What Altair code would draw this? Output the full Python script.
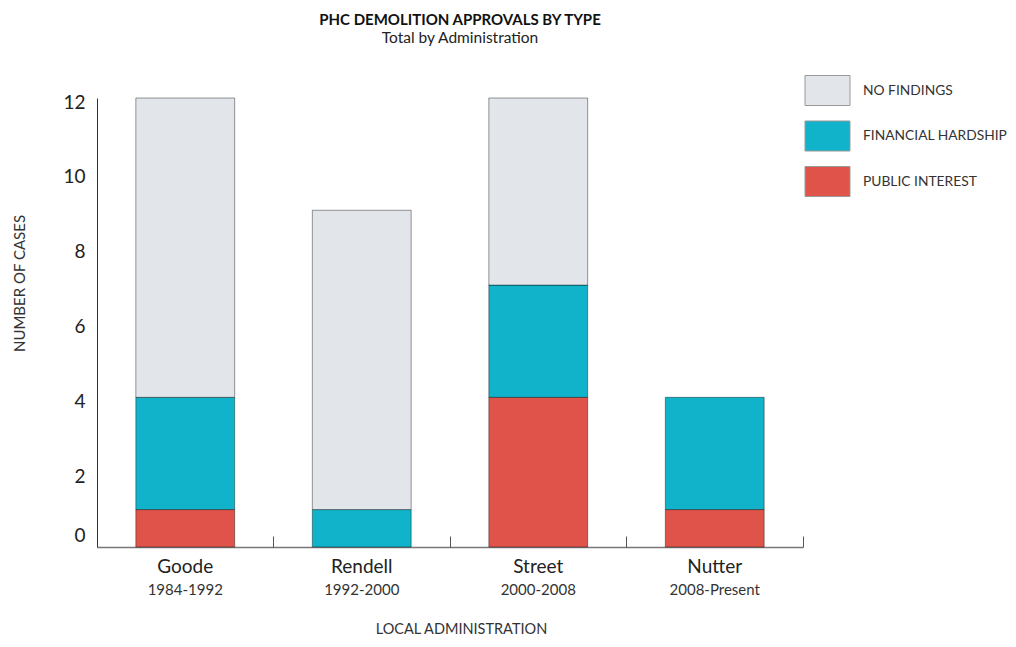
import altair as alt
import pandas as pd

ADMINS = ["Goode", "Rendell", "Street", "Nutter"]
TERMS = ["1984-1992", "1992-2000", "2000-2008", "2008-Present"]
TYPES = ["NO FINDINGS", "FINANCIAL HARDSHIP", "PUBLIC INTEREST"]
COLORS = ["#e2e5ea", "#10b3c9", "#e0534a"]
PUBLIC_INTEREST = [1, 0, 4, 1]
FINANCIAL_HARDSHIP = [3, 1, 3, 3]
NO_FINDINGS = [8, 8, 5, 0]
Y_TICKS = [0, 2, 4, 6, 8, 10, 12]

rows = []
for i, a in enumerate(ADMINS):
    for order, (t, vals) in enumerate([("PUBLIC INTEREST", PUBLIC_INTEREST),
                                       ("FINANCIAL HARDSHIP", FINANCIAL_HARDSHIP),
                                       ("NO FINDINGS", NO_FINDINGS)]):
        if vals[i] > 0:
            rows.append({"admin": a, "type": t, "cases": vals[i], "stack": order})
df = pd.DataFrame(rows)
admin_df = pd.DataFrame({"admin": ADMINS, "term": TERMS})

FONT = "Lato"
W, H = 706, 449

term_expr = " : ".join(f"datum.value === '{a}' ? '{t}'" for a, t in zip(ADMINS, TERMS)) + " : ''"
x_scale = alt.Scale(paddingInner=0.44, paddingOuter=0.22)

bars = alt.Chart(df).mark_bar(stroke="black", strokeOpacity=0.4, strokeWidth=1).encode(
    x=alt.X("admin:N", sort=ADMINS, scale=x_scale,
            axis=alt.Axis(orient="bottom", title=None, labelAngle=0, labelFontSize=19,
                          labelColor="#222", labelPadding=10, ticks=False, tickSize=0,
                          domainColor="#777", domainWidth=1.5, labelFont=FONT, grid=False)),
    y=alt.Y("cases:Q", stack="zero", scale=alt.Scale(domain=[0, 12], nice=False),
            axis=alt.Axis(values=Y_TICKS, ticks=False, grid=False, domainColor="#333",
                          domainWidth=1, labelFontSize=19, labelFont=FONT, labelColor="#222",
                          labelPadding=12,
                          labelOffset={"condition": {"test": "datum.value === 0", "value": -12}, "value": 4},
                          title="NUMBER OF CASES", titleFont=FONT, titleFontSize=15,
                          titleFontWeight="normal", titleColor="#333", titleX=-78, titleY=185,
                          titleAlign="center", titleBaseline="middle")),
    color=alt.Color("type:N", scale=alt.Scale(domain=TYPES, range=COLORS),
                    legend=alt.Legend(title=None, orient="none", legendX=715, legendY=-23,
                                      symbolType="M-1.5,-1H1.5V1H-1.5Z", symbolSize=900,
                                      symbolStrokeColor="#999", symbolStrokeWidth=1,
                                      labelFontSize=13.8, labelFont=FONT, labelColor="#333",
                                      labelOffset=20, rowPadding=10.5, padding=0, labelLimit=200)),
    order=alt.Order("stack:Q", sort="ascending"),
)

ticks = alt.Chart(admin_df).mark_point(opacity=0).encode(
    x=alt.X("admin:N", sort=ADMINS,
            axis=alt.Axis(orient="top", offset=-H, labels=False, domain=False, ticks=True,
                          tickSize=11, tickColor="#555", tickWidth=1,
                          bandPosition=1.3929, title=None, grid=False))
)

terms = alt.Chart(admin_df).mark_point(opacity=0).encode(
    x=alt.X("admin:N", sort=ADMINS,
            axis=alt.Axis(orient="bottom", labelExpr=term_expr, labelFontSize=15, labelFont=FONT,
                          labelColor="#333", labelPadding=35, labelAngle=0, domain=False,
                          ticks=False, grid=False, title="LOCAL ADMINISTRATION", titleFont=FONT,
                          titleFontSize=14.5, titleFontWeight="normal", titleColor="#333",
                          titlePadding=25, titleX=364, titleAlign="center"))
)

chart = alt.layer(bars, ticks, terms).resolve_axis(x="independent").properties(
    width=W, height=H,
    autosize=alt.AutoSizeParams(type="none"),
    padding={"left": 89, "top": 90, "right": 205, "bottom": 92},
    background="white",
    title=alt.TitleParams("PHC DEMOLITION APPROVALS BY TYPE", subtitle="Total by Administration",
                          anchor="middle", frame="group", dx=10, fontSize=15, subtitleFontSize=15.5,
                          font=FONT, subtitleFont=FONT, color="#111", subtitleColor="#222",
                          fontWeight="bold", offset=29, subtitlePadding=3),
).configure_view(stroke="transparent", strokeWidth=0)

chart.save("out.html", embed_options={"renderer": "svg", "actions": False})
